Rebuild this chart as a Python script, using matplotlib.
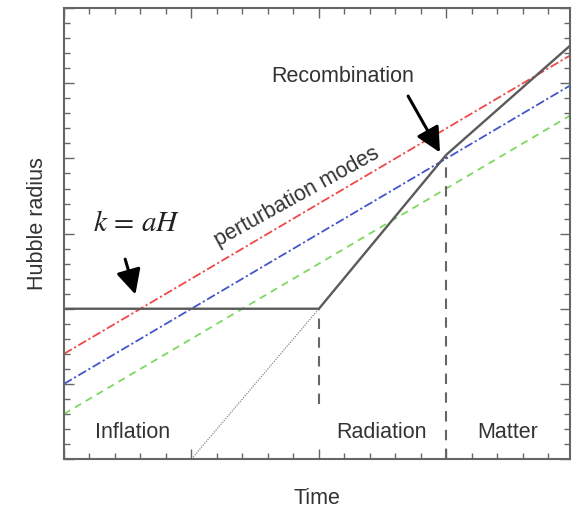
import matplotlib
matplotlib.use("Agg")
import matplotlib.pyplot as plt
from matplotlib.ticker import MultipleLocator

plt.rcParams['font.family'] = ['Liberation Sans', 'DejaVu Sans']
plt.rcParams['mathtext.fontset'] = 'stix'

# Data
hubble_x = [0, 2, 3, 3.97]
hubble_y = [2, 2, 4.05, 5.5]
extrap_x = [1, 2]
extrap_y = [0, 2]
mode_x = [0, 3.97]
red_y = [1.4, 5.37]
blue_y = [1.0, 4.97]
green_y = [0.6, 4.57]
boundary_inflation = (2, 0.73, 2)
boundary_recomb = (3, 0, 4.05)
phase_labels = ["Inflation", "Radiation", "Matter"]
phase_x = [0.54, 2.49, 3.48]

fig = plt.figure(figsize=(5.74, 5.10), dpi=100)
ax = fig.add_axes([0.1115, 0.098, 0.8815, 0.884])
ax.set_xlim(0, 3.97)
ax.set_ylim(0, 6)

gray = '#5a5a5a'
ax.plot(mode_x, red_y, color='#f04848', lw=1.3, dashes=(5, 1.5, 1.2, 1.5))
ax.plot(mode_x, blue_y, color='#4455cc', lw=1.3, dashes=(5, 1.5, 1.2, 1.5))
ax.plot(mode_x, green_y, color='#7ed860', lw=1.3, dashes=(4, 3))
ax.plot(hubble_x, hubble_y, color=gray, lw=1.7, solid_joinstyle='miter')
ax.plot(extrap_x, extrap_y, color='#888888', lw=0.9, dashes=(1, 1))
ax.vlines(boundary_inflation[0], boundary_inflation[1], boundary_inflation[2],
          color='#666666', lw=1.5, linestyles=(0, (5, 4)))
ax.vlines(boundary_recomb[0], boundary_recomb[1], boundary_recomb[2],
          color='#666666', lw=1.5, linestyles=(0, (5, 4)))

tc = '#333333'
for lab, px in zip(phase_labels, phase_x):
    ax.text(px, 0.36, lab, fontsize=15.5, color=tc, ha='center', va='center')
ax.text(2.19, 5.11, "Recombination", fontsize=15.5, color=tc, ha='center', va='center')
ax.text(1.83, 3.5, "perturbation modes", fontsize=15.5, color=tc, ha='center',
        va='center', rotation=29, rotation_mode='anchor')
ax.text(0.57, 3.16, r"$k\,=\,aH$", fontsize=21, color='#222222', ha='center', va='center')

ap = dict(arrowstyle='-|>,head_length=0.5,head_width=0.25', lw=2.2, color='black',
          mutation_scale=30, shrinkA=0, shrinkB=0)
ax.annotate("", xy=(0.56, 2.19), xytext=(0.48, 2.66), arrowprops=ap)
ax.annotate("", xy=(2.95, 4.08), xytext=(2.70, 4.83), arrowprops=ap)

ax.set_xlabel("Time", fontsize=15.5, color=tc, labelpad=20)
ax.set_ylabel("Hubble radius", fontsize=15.5, color=tc)
ax.yaxis.set_label_coords(-0.032, 0.525)

ax.xaxis.set_major_locator(MultipleLocator(1))
ax.xaxis.set_minor_locator(MultipleLocator(0.2))
ax.yaxis.set_major_locator(MultipleLocator(1))
ax.yaxis.set_minor_locator(MultipleLocator(0.2))
ax.tick_params(which='both', direction='in', top=True, right=True,
               labelbottom=False, labelleft=False, color='#666666', width=1)
ax.tick_params(which='major', length=7)
ax.tick_params(which='minor', length=4)
for s in ax.spines.values():
    s.set_color('#666666')
    s.set_linewidth(1.5)

fig.savefig("out.png", dpi=100)
